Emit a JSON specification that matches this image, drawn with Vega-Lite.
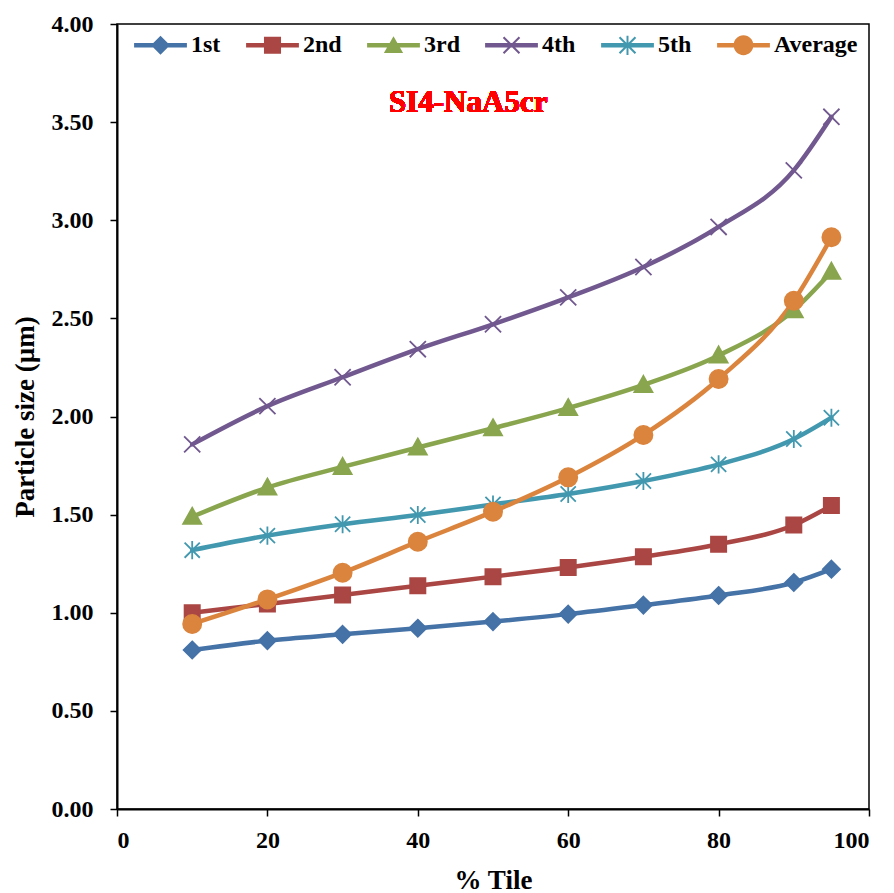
{
  "$schema": "https://vega.github.io/schema/vega-lite/v6.json",
  "width": 752,
  "height": 785,
  "autosize": {"type": "none"},
  "padding": {"left": 117, "top": 24, "right": 25, "bottom": 84},
  "background": "white",
  "config": {
    "font": "Liberation Serif",
    "view": {"stroke": "black", "strokeWidth": 1.5},
    "axis": {
      "labelFont": "Liberation Serif", "labelFontWeight": "bold", "labelFontSize": 24, "labelColor": "black",
      "titleFont": "Liberation Serif", "titleFontWeight": "bold", "titleFontSize": 27, "titleColor": "black",
      "domainColor": "black", "domainWidth": 2, "tickColor": "black", "tickWidth": 1.5, "tickSize": 7, "grid": false
    }
  },
  "data": {"values": [
    {"pct": 10, "size": 0.81, "run": "1st"}, {"pct": 20, "size": 0.858, "run": "1st"}, {"pct": 30, "size": 0.89, "run": "1st"}, {"pct": 40, "size": 0.921, "run": "1st"}, {"pct": 50, "size": 0.955, "run": "1st"}, {"pct": 60, "size": 0.993, "run": "1st"}, {"pct": 70, "size": 1.039, "run": "1st"}, {"pct": 80, "size": 1.088, "run": "1st"}, {"pct": 90, "size": 1.154, "run": "1st"}, {"pct": 95, "size": 1.222, "run": "1st"},
    {"pct": 10, "size": 1.0, "run": "2nd"}, {"pct": 20, "size": 1.045, "run": "2nd"}, {"pct": 30, "size": 1.09, "run": "2nd"}, {"pct": 40, "size": 1.138, "run": "2nd"}, {"pct": 50, "size": 1.184, "run": "2nd"}, {"pct": 60, "size": 1.231, "run": "2nd"}, {"pct": 70, "size": 1.285, "run": "2nd"}, {"pct": 80, "size": 1.349, "run": "2nd"}, {"pct": 90, "size": 1.447, "run": "2nd"}, {"pct": 95, "size": 1.546, "run": "2nd"},
    {"pct": 10, "size": 1.489, "run": "3rd"}, {"pct": 20, "size": 1.638, "run": "3rd"}, {"pct": 30, "size": 1.743, "run": "3rd"}, {"pct": 40, "size": 1.842, "run": "3rd"}, {"pct": 50, "size": 1.94, "run": "3rd"}, {"pct": 60, "size": 2.043, "run": "3rd"}, {"pct": 70, "size": 2.161, "run": "3rd"}, {"pct": 80, "size": 2.311, "run": "3rd"}, {"pct": 90, "size": 2.542, "run": "3rd"}, {"pct": 95, "size": 2.738, "run": "3rd"},
    {"pct": 10, "size": 1.858, "run": "4th"}, {"pct": 20, "size": 2.053, "run": "4th"}, {"pct": 30, "size": 2.2, "run": "4th"}, {"pct": 40, "size": 2.343, "run": "4th"}, {"pct": 50, "size": 2.47, "run": "4th"}, {"pct": 60, "size": 2.607, "run": "4th"}, {"pct": 70, "size": 2.762, "run": "4th"}, {"pct": 80, "size": 2.966, "run": "4th"}, {"pct": 90, "size": 3.254, "run": "4th"}, {"pct": 95, "size": 3.527, "run": "4th"},
    {"pct": 10, "size": 1.319, "run": "5th"}, {"pct": 20, "size": 1.393, "run": "5th"}, {"pct": 30, "size": 1.451, "run": "5th"}, {"pct": 40, "size": 1.498, "run": "5th"}, {"pct": 50, "size": 1.552, "run": "5th"}, {"pct": 60, "size": 1.605, "run": "5th"}, {"pct": 70, "size": 1.671, "run": "5th"}, {"pct": 80, "size": 1.756, "run": "5th"}, {"pct": 90, "size": 1.885, "run": "5th"}, {"pct": 95, "size": 1.994, "run": "5th"},
    {"pct": 10, "size": 0.943, "run": "Average"}, {"pct": 20, "size": 1.068, "run": "Average"}, {"pct": 30, "size": 1.204, "run": "Average"}, {"pct": 40, "size": 1.362, "run": "Average"}, {"pct": 50, "size": 1.515, "run": "Average"}, {"pct": 60, "size": 1.69, "run": "Average"}, {"pct": 70, "size": 1.906, "run": "Average"}, {"pct": 80, "size": 2.191, "run": "Average"}, {"pct": 90, "size": 2.59, "run": "Average"}, {"pct": 95, "size": 2.913, "run": "Average"}
  ]},
  "encoding": {
    "x": {"field": "pct", "type": "quantitative", "scale": {"domain": [0, 100]},
      "axis": {"values": [0, 20, 40, 60, 80, 100], "title": "% Tile", "labelPadding": 12, "titlePadding": 15}},
    "y": {"field": "size", "type": "quantitative", "scale": {"domain": [0, 4]},
      "axis": {"values": [0, 0.5, 1, 1.5, 2, 2.5, 3, 3.5, 4], "format": ".2f", "title": "Particle size (µm)", "labelPadding": 17, "titlePadding": 12}}
  },
  "layer": [
    {
      "mark": {"type": "line", "strokeWidth": 4.5, "interpolate": "monotone", "strokeCap": "round"},
      "encoding": {
        "stroke": {"field": "run", "type": "nominal",
          "scale": {"domain": ["1st", "2nd", "3rd", "4th", "5th", "Average"], "range": ["#4572A7", "#AA4643", "#89A54E", "#71588F", "#4198AF", "#DB843D"]},
          "legend": null}
      }
    },
    {
      "transform": [{"filter": {"field": "run", "equal": "1st"}}],
      "mark": {"type": "point", "shape": "M0,-0.9L0.9,0L0,0.9L-0.9,0Z", "filled": true, "fill": "#4572A7", "stroke": "#4572A7", "strokeWidth": 1.8, "size": 361, "opacity": 1}
    },
    {
      "transform": [{"filter": {"field": "run", "equal": "2nd"}}],
      "mark": {"type": "point", "shape": "M-0.8,-0.8H0.8V0.8H-0.8Z", "filled": true, "fill": "#AA4643", "stroke": "#AA4643", "strokeWidth": 1.8, "size": 361, "opacity": 1}
    },
    {
      "transform": [{"filter": {"field": "run", "equal": "3rd"}}],
      "mark": {"type": "point", "shape": "M0,-0.95L0.95,0.75L-0.95,0.75Z", "filled": true, "fill": "#89A54E", "stroke": "#89A54E", "strokeWidth": 1.8, "size": 361, "opacity": 1}
    },
    {
      "transform": [{"filter": {"field": "run", "equal": "4th"}}],
      "mark": {"type": "point", "shape": "M-0.85,-0.85L0.85,0.85M-0.85,0.85L0.85,-0.85", "filled": false, "stroke": "#71588F", "strokeWidth": 1.8, "size": 361, "opacity": 1}
    },
    {
      "transform": [{"filter": {"field": "run", "equal": "5th"}}],
      "mark": {"type": "point", "shape": "M-0.8,-0.8L0.8,0.8M-0.8,0.8L0.8,-0.8M0,-0.95L0,0.95", "filled": false, "stroke": "#4198AF", "strokeWidth": 1.8, "size": 361, "opacity": 1}
    },
    {
      "transform": [{"filter": {"field": "run", "equal": "Average"}}],
      "mark": {"type": "point", "shape": "circle", "filled": true, "fill": "#DB843D", "stroke": "#DB843D", "strokeWidth": 1.5, "size": 340, "opacity": 1}
    },
    {
      "mark": {"type": "point", "filled": true, "strokeWidth": 0, "clip": true},
      "encoding": {
        "y": {"datum": -1, "type": "quantitative"},
        "color": {"field": "run", "type": "nominal",
          "scale": {"domain": ["1st", "2nd", "3rd", "4th", "5th", "Average"], "range": ["#4572A7", "#AA4643", "#89A54E", "#71588F", "#4198AF", "#DB843D"]},
          "legend": {
            "title": null, "orient": "none", "legendX": 16, "legendY": -6.5, "direction": "horizontal",
            "symbolSize": 3025, "labelFont": "Liberation Serif", "labelFontSize": 24, "labelFontWeight": "bold",
            "labelColor": "black", "labelOffset": 3, "columnPadding": 24, "padding": 0, "labelLimit": 0,
            "symbolStrokeWidth": 0, "symbolOpacity": 1
          }},
        "shape": {"field": "run", "type": "nominal",
          "scale": {"domain": ["1st", "2nd", "3rd", "4th", "5th", "Average"],
            "range": [
              "M-0.96,-0.085H0.96V0.085H-0.96Z M0,-0.345L0.345,0L0,0.345L-0.345,0Z",
              "M-0.96,-0.085H0.96V0.085H-0.96Z M-0.31,-0.31H0.31V0.31H-0.31Z",
              "M-0.96,-0.085H0.96V0.085H-0.96Z M0,-0.33L0.35,0.28L-0.35,0.28Z",
              "M-0.96,-0.085H0.96V0.085H-0.96Z M-0.264,-0.316L0.316,0.264L0.264,0.316L-0.316,-0.264Z M-0.264,0.316L-0.316,0.264L0.264,-0.316L0.316,-0.264Z",
              "M-0.96,-0.085H0.96V0.085H-0.96Z M-0.264,-0.316L0.316,0.264L0.264,0.316L-0.316,-0.264Z M-0.264,0.316L-0.316,0.264L0.264,-0.316L0.316,-0.264Z M-0.036,-0.35H0.036V0.35H-0.036Z",
              "M-0.96,-0.085H0.96V0.085H-0.96Z M-0.36,0A0.36,0.36 0 1,1 0.36,0A0.36,0.36 0 1,1 -0.36,0Z"
            ]},
          "legend": {
            "title": null, "orient": "none", "legendX": 16, "legendY": -6.5, "direction": "horizontal",
            "symbolSize": 3025, "labelFont": "Liberation Serif", "labelFontSize": 24, "labelFontWeight": "bold",
            "labelColor": "black", "labelOffset": 3, "columnPadding": 24, "padding": 0, "labelLimit": 0,
            "symbolStrokeWidth": 0, "symbolOpacity": 1
          }}
      }
    },
    {
      "mark": {"type": "text", "text": "SI4-NaA5cr", "font": "Liberation Serif", "fontSize": 31, "fontWeight": "bold", "color": "#FF0000", "align": "center", "baseline": "middle"},
      "encoding": {"x": {"datum": 46.7}, "y": {"datum": 3.6}}
    }
  ],
  "resolve": {
    "scale": {"shape": "independent", "color": "independent"},
    "legend": {"shape": "independent", "color": "independent"}
  }
}
